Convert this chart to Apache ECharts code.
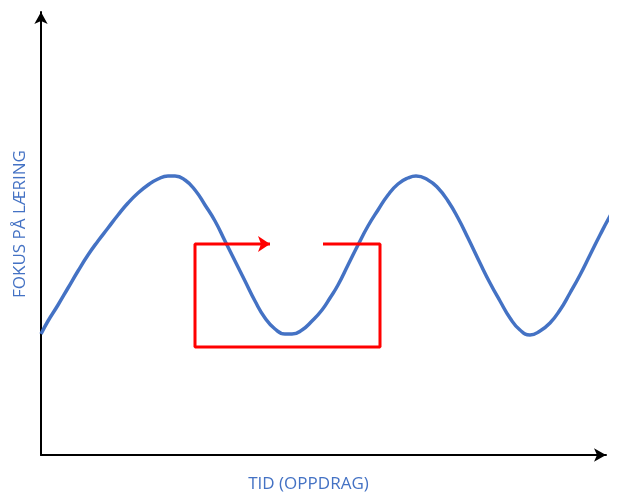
<!DOCTYPE html>
<html>
<head>
<meta charset="utf-8">
<script src="https://cdn.jsdelivr.net/npm/echarts@6/dist/echarts.min.js"></script>
<style>html,body{margin:0;padding:0;background:#fff}#c{width:618px;height:495px}</style>
</head>
<body>
<div id="c"></div>
<script>
// Blue curve: focus on learning over time (x = time, y = focus)
const curveX = [0, 7, 17, 27, 37, 47, 57, 67, 77, 87, 97, 107, 117, 127, 134, 144, 154, 164, 174, 184, 194, 204, 214, 224, 234, 244, 251, 261, 271, 281, 289, 297, 307, 317, 327, 337, 347, 357, 367, 375, 387, 397, 407, 417, 427, 439, 449, 459, 469, 479, 489, 499, 509, 519, 529, 539, 549, 559, 569, 577];
const curveY = [121, 134, 150, 167, 184, 200, 214, 227, 240, 252, 262, 270, 276, 279, 279, 275, 265, 250, 234, 214, 194, 174, 154, 137, 126, 121, 121, 125, 134, 145, 157, 170, 190, 210, 229, 245, 260, 271, 277, 279, 275, 267, 254, 237, 217, 192, 172, 154, 137, 125, 120, 124, 132, 145, 162, 180, 200, 220, 239, 252];
// Red loop path (ends with arrow)
const loopX = [282, 339, 339, 154, 154, 229];
const loopY = [211, 211, 108, 108, 211, 211];
const xName = 'TID (OPPDRAG)';
const yName = 'FOKUS PÅ LÆRING';

const curve = curveX.map((x, i) => [x, curveY[i]]);
const loop = loopX.map((x, i) => {
  const item = { value: [x, loopY[i]] };
  if (i === loopX.length - 1) {
    item.symbol = 'arrow';
    item.symbolSize = [12, 12];
    item.symbolRotate = -90;
  }
  return item;
});

const chart = echarts.init(document.getElementById('c'));
chart.setOption({
  animation: false,
  grid: { left: 41, right: 12, top: 12, bottom: 40, outerBoundsMode: 'none', containLabel: false },
  xAxis: {
    type: 'value', min: 0, max: 565,
    name: xName, nameLocation: 'middle', nameGap: 21,
    nameTextStyle: { color: '#4472C4', fontSize: 17, fontFamily: 'Open Sans', padding: [0, 30, 0, 0] },
    axisLine: { show: true, symbol: ['none', 'arrow'], symbolSize: [10, 12], lineStyle: { color: '#000', width: 2 } },
    axisTick: { show: false }, axisLabel: { show: false }, splitLine: { show: false }
  },
  yAxis: {
    type: 'value', min: 0, max: 443,
    name: yName, nameLocation: 'middle', nameGap: 12,
    nameTextStyle: { color: '#4472C4', fontSize: 17, fontFamily: 'Open Sans', padding: [0, 0, 0, 19] },
    axisLine: { show: true, symbol: ['none', 'arrow'], symbolSize: [10, 12], lineStyle: { color: '#000', width: 2 } },
    axisTick: { show: false }, axisLabel: { show: false }, splitLine: { show: false }
  },
  series: [
    {
      type: 'line', data: curve, smooth: 0.5, showSymbol: false, clip: false,
      lineStyle: { color: '#4472C4', width: 3.5 }
    },
    {
      type: 'line', data: loop, symbol: 'none', clip: false,
      itemStyle: { color: '#FF0000' },
      lineStyle: { color: '#FF0000', width: 3 }
    }
  ]
});
</script>
</body>
</html>
